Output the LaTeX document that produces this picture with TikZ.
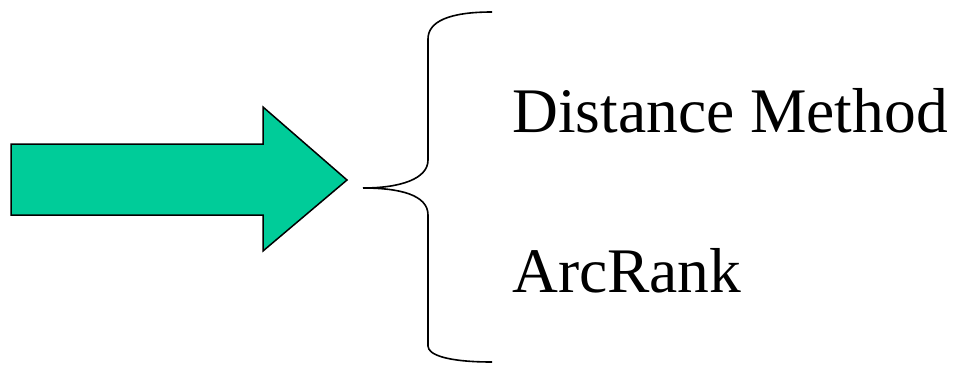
\documentclass[tikz,border=0pt]{standalone}
\usepackage{fontspec}
\setmainfont{Liberation Serif}
\definecolor{arrowgreen}{HTML}{00CC99}
\tikzset{
  blockarrow/.style={draw=black, line width=1.5pt, fill=arrowgreen, line join=miter},
  bracepath/.style={draw=black, line width=1.6pt},
  itemlabel/.style={anchor=base west, inner sep=0pt, font=\fontsize{63.5}{70}\selectfont}
}
\begin{document}
\begin{tikzpicture}[x=1pt,y=1pt]
\useasboundingbox (0,0) rectangle (955,365);
% big block arrow
\draw[blockarrow] (11,221) -- (263,221) -- (263,258) -- (347,185)
  -- (263,114) -- (263,150) -- (11,150) -- cycle;
% curly brace
\coordinate (btop) at (492,353);
\coordinate (btip) at (363,177);
\coordinate (bbot) at (492,3);
\draw[bracepath] (btop) .. controls (448,353) and (428,343) .. (428,326)
  -- (428,205) .. controls (428,186) and (400,177) .. (btip)
  .. controls (400,177) and (428,170) .. (428,150)
  -- (428,19) .. controls (428,10) and (448,3) .. (bbot);
% labels
\node[itemlabel] (dist) at (512,233) {Distance Method};
\node[itemlabel] (arc) at (512,73) {ArcRank};
\end{tikzpicture}
\end{document}
